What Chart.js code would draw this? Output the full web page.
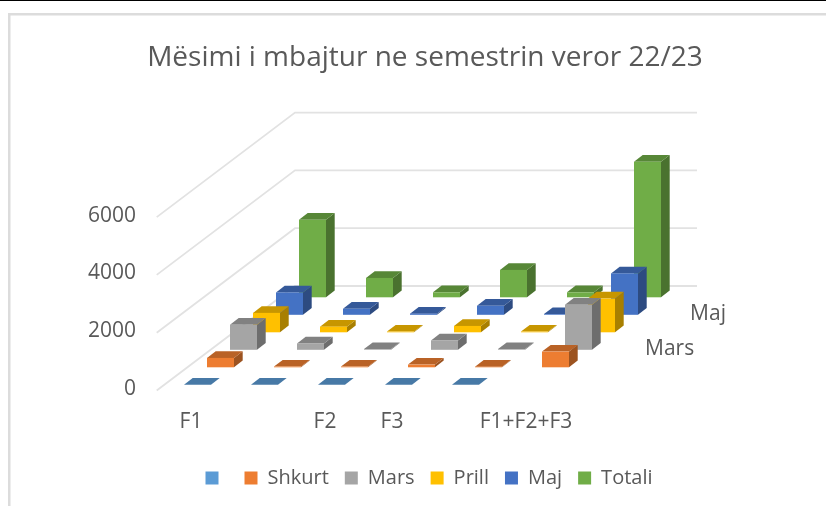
<!DOCTYPE html>
<html>
<head>
<meta charset="utf-8">
<style>html,body{margin:0;padding:0;background:#fff}#wrap{position:relative;width:826px;height:506px}</style>
<script src="https://cdn.jsdelivr.net/npm/chart.js@4"></script>
</head>
<body>
<div id="wrap"><canvas id="c" width="826" height="506"></canvas></div>
<script>
const titleText = 'Mësimi i mbajtur ne semestrin veror 22/23';
const categories = ['F1', '', 'F2', 'F3', '', 'F1+F2+F3'];
const seriesNames = ['', 'Shkurt', 'Mars', 'Prill', 'Maj', 'Totali'];
const seriesAxisLabels = ['', '', 'Mars', '', 'Maj', ''];
const blank  = [0, 0, 0, 0, 0, null];
const shkurt = [325, 25, 25, 93, 20, 543];
const mars   = [867, 220, 25, 323, 25, 1560];
const prill  = [672, 195, 25, 220, 25, 1167];
const maj    = [773, 208, 40, 312, 25, 1433];
const totali = [2683, 670, 173, 948, 173, 4690];
const colors = ['#5B9BD5', '#ED7D31', '#A5A5A5', '#FFC000', '#4472C4', '#70AD47'];
const seriesValues = [blank, shkurt, mars, prill, maj, totali];

const FONT = '"Open Sans", sans-serif';
const TEXT = '#595959';
const view = {stepX: 23, stepY: 17.5, liftY: 4.2, barDepthX: 8.7, barDepthY: 6.7,
              wallX: 138.3, wallY: 104.5, floorInsetX: 7.3, floorDropY: 1.5};

function shade(hex, k) {
  const n = parseInt(hex.slice(1), 16);
  const c = s => Math.round(((n >> s) & 255) * k);
  return `rgb(${c(16)},${c(8)},${c(0)})`;
}
function poly(ctx, pts, fill) {
  ctx.beginPath();
  pts.forEach((p, i) => i ? ctx.lineTo(p[0], p[1]) : ctx.moveTo(p[0], p[1]));
  ctx.closePath();
  ctx.fillStyle = fill;
  ctx.fill();
}

const frame3d = {
  id: 'frame3d',
  afterLayout(chart) {
    chart.legend.left += 4;
    chart.legend.right += 4;
  },
  beforeDraw(chart) {
    const {ctx} = chart;
    ctx.save();
    ctx.fillStyle = '#000';
    ctx.fillRect(0, 0, 826, 1);
    ctx.fillStyle = '#dcdcdc';
    ctx.fillRect(8, 13, 818, 2.5);
    ctx.fillRect(8, 13, 2.5, 493);
    ctx.restore();
  },
  beforeDatasetsDraw(chart) {
    const {ctx, scales: {x, y}} = chart;
    const x0 = x.left - view.floorInsetX;
    const x1 = x.right - view.floorInsetX + view.wallX;
    const xb = x0 + view.wallX;
    ctx.save();
    ctx.strokeStyle = '#e2e2e2';
    ctx.lineWidth = 1.8;
    y.ticks.forEach(t => {
      const py = y.getPixelForValue(t.value) + view.floorDropY;
      ctx.beginPath();
      ctx.moveTo(x0, py);
      ctx.lineTo(xb, py - view.wallY);
      ctx.lineTo(x1, py - view.wallY);
      ctx.stroke();
    });
    ctx.restore();
  },
  beforeDatasetDraw(chart, args) {
    const {ctx} = chart;
    const i = args.index;
    const meta = args.meta;
    const dx = view.stepX * i;
    const dy = -(view.liftY + view.stepY * i);
    const base = colors[i];
    const bx = view.barDepthX, by = view.barDepthY;
    ctx.save();
    meta.data.forEach((el, j) => {
      if (seriesValues[i][j] == null) return;
      const p = el.getProps(['x', 'y', 'base', 'width'], true);
      const l = p.x - p.width / 2 + dx, r = l + p.width;
      const t = p.y + dy, b = p.base + dy;
      poly(ctx, [[r, t], [r + bx, t - by], [r + bx, b - by], [r, b]], shade(base, 0.66));
      poly(ctx, [[l, t], [l + bx, t - by], [r + bx, t - by], [r, t]], shade(base, 0.78));
      if (b - t > 0.5) { ctx.fillStyle = base; ctx.fillRect(l, t, p.width, b - t); }
    });
    ctx.restore();
    return false;
  },
  afterDatasetsDraw(chart) {
    const {ctx, scales: {x, y}} = chart;
    ctx.save();
    ctx.font = '21px ' + FONT;
    ctx.fillStyle = TEXT;
    ctx.textBaseline = 'middle';
    seriesAxisLabels.forEach((s, i) => {
      if (!s) return;
      ctx.fillText(s, x.right + 79 + view.stepX * (i - 2) * 0.98, y.getPixelForValue(0) - 40 - view.stepY * (i - 2));
    });
    ctx.restore();
  }
};

new Chart(document.getElementById('c'), {
  type: 'bar',
  data: {
    labels: categories,
    datasets: seriesValues.map((d, i) => ({
      label: seriesNames[i], data: d, backgroundColor: colors[i], borderWidth: 0, grouped: false
    }))
  },
  plugins: [frame3d],
  options: {
    responsive: false,
    animation: false,
    datasets: {bar: {barThickness: 27}},
    layout: {padding: {left: 24, right: 0, top: 0, bottom: 8}},
    plugins: {
      tooltip: {enabled: false},
      title: {
        display: true, text: titleText, color: TEXT,
        font: {family: FONT, size: 28, weight: 'normal'},
        padding: {top: 41, bottom: 141}
      },
      legend: {
        position: 'bottom',
        labels: {color: TEXT, font: {family: FONT, size: 20}, boxWidth: 13, boxHeight: 13, padding: 16}
      }
    },
    scales: {
      x: {
        grid: {display: false}, border: {display: false},
        ticks: {color: TEXT, font: {family: FONT, size: 21}, padding: 12, labelOffset: -6.5, maxRotation: 0, autoSkip: false},
        afterFit(s) { s.height = 63; }
      },
      y: {
        min: 0, max: 6000,
        grid: {display: false}, border: {display: false},
        ticks: {color: TEXT, font: {family: FONT, size: 21}, stepSize: 2000, padding: 20, callback: v => String(v)},
        afterFit(s) { s.width = 140; }
      },
      seriesAxis: {
        type: 'linear', position: 'right', display: true,
        grid: {display: false}, border: {display: false}, ticks: {display: false},
        afterFit(s) { s.width = 260; }
      }
    }
  }
});
</script>
</body>
</html>
